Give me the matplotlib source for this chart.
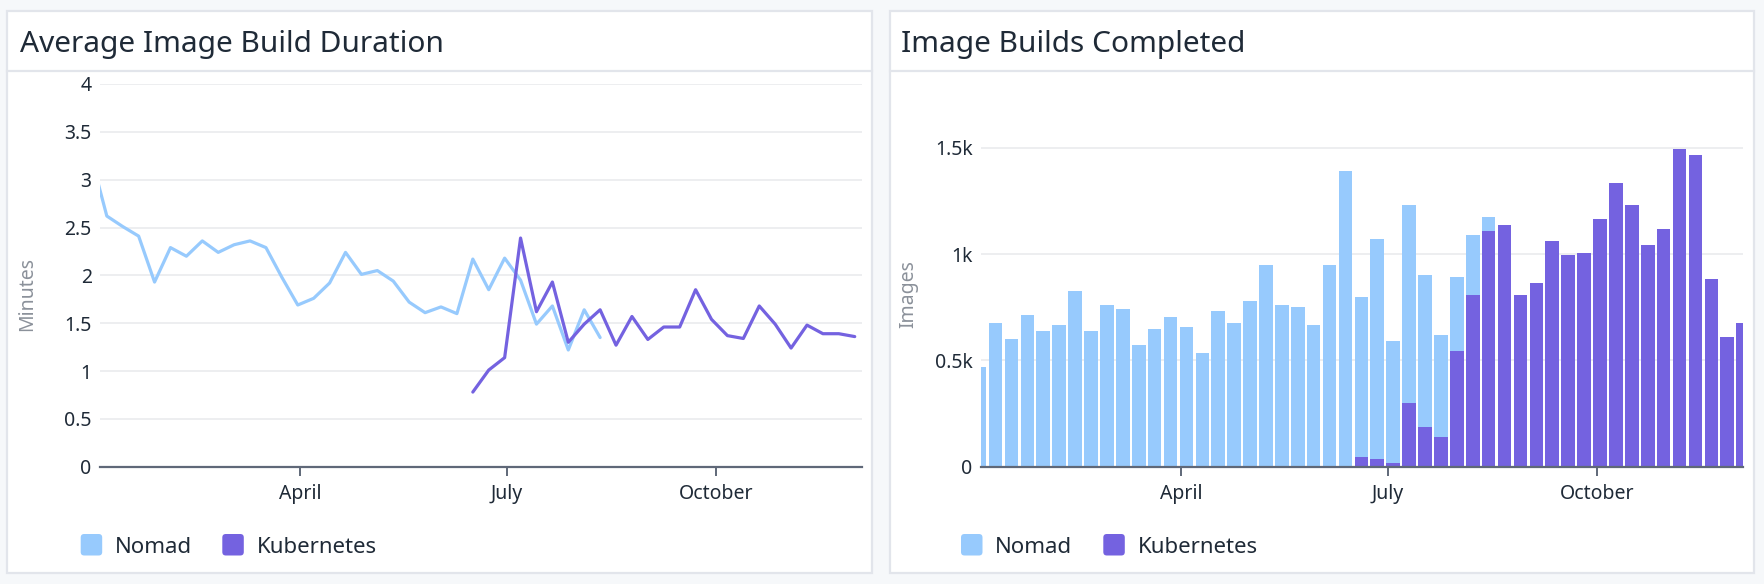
import matplotlib.pyplot as plt
import matplotlib.dates as mdates
import matplotlib.transforms as mtransforms
from matplotlib.patches import Rectangle, FancyBboxPatch
from matplotlib.lines import Line2D
import pandas as pd

plt.rcParams['font.family'] = ['Noto Sans', 'DejaVu Sans']

# weekly buckets (week starts on Sunday)
weeks = pd.date_range('2023-12-31', periods=49, freq='7D')

# average build duration in minutes
nomad_minutes = [3.25, 2.62, 2.51, 2.41, 1.93, 2.29, 2.20, 2.36, 2.24, 2.32,
                 2.36, 2.29, 1.98, 1.69, 1.76, 1.92, 2.24, 2.01, 2.05, 1.94,
                 1.72, 1.61, 1.67, 1.60, 2.17, 1.85, 2.18, 1.95, 1.49, 1.68,
                 1.22, 1.64, 1.35]                      # weeks 0..32
kube_minutes = [0.78, 1.01, 1.14, 2.39, 1.62, 1.93, 1.30, 1.49, 1.64, 1.27,
                1.57, 1.33, 1.46, 1.46, 1.85, 1.54, 1.37, 1.34, 1.68, 1.49,
                1.24, 1.48, 1.39, 1.39, 1.36]           # weeks 24..48

# images built per week
nomad_builds = [470, 676, 601, 714, 638, 667, 826, 638, 761, 742,
                572, 648, 704, 657, 535, 733, 676, 779, 949, 761,
                751, 667, 949, 1391, 752, 1035, 574, 931, 715, 480,
                348, 282, 68]                           # weeks 0..32
kube_builds = [46, 36, 17, 300, 187, 140, 544, 808, 1107, 1136,
               808, 864, 1061, 996, 1005, 1164, 1334, 1231, 1043, 1118,
               1494, 1466, 882, 611, 676]               # weeks 24..48

NOMAD = '#97CAFD'
KUBE = '#7462E0'
TEXT = '#1F2A37'
GRID = '#E8E9EC'
AXIS = '#5F6878'
BORDER = '#E2E5EB'

W, H = 1764, 584
fig = plt.figure(figsize=(W / 100, H / 100), dpi=100)
fig.patch.set_facecolor('#F6F8FA')
px = mtransforms.IdentityTransform()

# panel boxes (behind the axes)
for x0, x1 in [(7, 872), (890, 1754)]:
    fig.add_artist(Rectangle((x0, 11), x1 - x0, 562, transform=px, zorder=-2,
                             facecolor='white', edgecolor=BORDER, lw=1.6))
    fig.add_artist(Line2D([x0, x1], [513, 513], transform=px, color=BORDER,
                          lw=1.6, zorder=-1))

fig.text(20 / W, 1 - 51.7 / H, 'Average Image Build Duration', fontsize=21.5,
         color=TEXT, va='baseline')
fig.text(901 / W, 1 - 51.7 / H, 'Image Builds Completed', fontsize=21.5,
         color=TEXT, va='baseline')

ax1 = fig.add_axes([100 / W, 0.20086, 762 / W, 0.65531])
ax2 = fig.add_axes([981 / W, 0.20086, 761.7 / W, 0.65531])
for ax in (ax1, ax2):
    ax.patch.set_alpha(0)

wk = mdates.date2num(weeks)
ax1.plot(wk[:33], nomad_minutes, color=NOMAD, lw=2.3, solid_joinstyle='round',
         solid_capstyle='round')
ax1.plot(wk[24:], kube_minutes, color=KUBE, lw=2.3, solid_joinstyle='round',
         solid_capstyle='round')
ax1.set_ylim(0, 4)
ax1.set_yticks([0, 0.5, 1, 1.5, 2, 2.5, 3, 3.5, 4])
ax1.set_yticklabels(['0', '0.5', '1', '1.5', '2', '2.5', '3', '3.5', '4'])
ax1.set_ylabel('Minutes')

ax2.bar(wk[24:] + 3.4, kube_builds, width=6, color=KUBE, zorder=2)
ax2.bar(wk[24:33] + 3.4, nomad_builds[24:], width=6, bottom=kube_builds[:9],
        color=NOMAD, zorder=2)
ax2.bar(wk[:24] + 3.4, nomad_builds[:24], width=6, color=NOMAD, zorder=2)
ax2.set_ylim(0, 1800)
ax2.set_yticks([0, 500, 1000, 1500])
ax2.set_yticklabels(['0', '0.5k', '1k', '1.5k'])
ax2.set_ylabel('Images')

apr = mdates.date2num(pd.Timestamp('2024-04-01'))
octo = mdates.date2num(pd.Timestamp('2024-10-01'))
xt = mdates.date2num(pd.to_datetime(['2024-04-01', '2024-07-01', '2024-10-01']))
for ax in (ax1, ax2):
    ax.set_xlim(apr - 88.0, octo + 64.2)
    ax.set_xticks(xt)
    ax.set_xticklabels(['April', 'July', 'October'])
    for s in ('top', 'right', 'left'):
        ax.spines[s].set_visible(False)
    ax.spines['bottom'].set_color(AXIS)
    ax.spines['bottom'].set_linewidth(1.6)
    ax.spines['bottom'].set_zorder(5)
    ax.grid(axis='y', color=GRID, lw=1.1, zorder=0)
    ax.set_axisbelow(True)
    ax.tick_params(axis='y', length=0, pad=6, labelsize=14, labelcolor=TEXT)
    ax.tick_params(axis='x', length=6.5, width=1.4, color=AXIS, pad=6,
                   labelsize=14, labelcolor=TEXT)
    ax.yaxis.label.set_color('#8B919A')
    ax.yaxis.label.set_fontsize(14)
    ax.yaxis.set_label_coords(-0.082, 0.45)

# legends
for sq1, tx1, sq2, tx2 in [(80.7, 115, 222.3, 257.3), (961, 995, 1103.3, 1138.3)]:
    for sq, tx, col, name in [(sq1, tx1, NOMAD, 'Nomad'), (sq2, tx2, KUBE, 'Kubernetes')]:
        fig.add_artist(FancyBboxPatch((sq, 28.5), 21.5, 21.5, transform=px,
                                      boxstyle='round,pad=0,rounding_size=3.5',
                                      facecolor=col, edgecolor='none'))
        fig.text(tx / W, 30.7 / H, name, fontsize=16, color=TEXT, va='baseline')

fig.savefig('out.png', dpi=100, facecolor=fig.get_facecolor())
